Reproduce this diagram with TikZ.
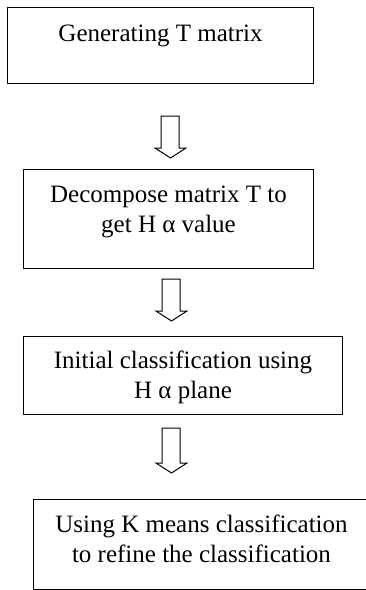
\documentclass[tikz,border=0pt]{standalone}
\usepackage{fontspec}
\setmainfont{Liberation Serif}
\usetikzlibrary{calc}
\tikzset{
  stepbox/.style={draw, line width=1pt, rectangle, inner sep=0pt, anchor=north west},
  lbl/.style={inner sep=0pt, align=center, anchor=base,
    font=\fontsize{25}{29.5}\selectfont},
  hollow/.style={draw, line width=1pt, fill=white, line join=miter},
}
% hollow down arrow: shaft top at #1, shaft length #2
\newcommand{\hollowarrow}[2]{%
  \draw[hollow] ($(#1)+(-9,0)$) -- ($(#1)+(9,0)$) -- ($(#1)+(9,#2)$)
    -- ($(#1)+(16,#2)$) -- ($(#1)+(0.5,#2+10)$) -- ($(#1)+(-15,#2)$)
    -- ($(#1)+(-9,#2)$) -- cycle;}
\begin{document}
\begin{tikzpicture}[x=1pt, y=-1pt]
  \useasboundingbox (0,0) rectangle (365,590);

  % process boxes
  \node[stepbox, minimum width=306pt, minimum height=76pt] (b1) at (7,7) {};
  \node[stepbox, minimum width=290pt, minimum height=99pt] (b2) at (23,169) {};
  \node[stepbox, minimum width=319pt, minimum height=78pt] (b3) at (23,336) {};
  \node[stepbox, minimum width=336pt, minimum height=90pt] (b4) at (33,499) {};

  % box texts (the base anchor sits on the last line)
  \node[lbl] (t1) at ($(b1.north)+(0,34)$) {Generating T matrix};
  \node[lbl] (t2) at ($(b2.north)+(0,63)$) {Decompose matrix T to\\get H α value};
  \node[lbl] (t3) at ($(b3.north)+(0,62)$) {Initial classification using\\H α plane};
  \node[lbl] (t4) at ($(b4.north)+(0,63)$) {Using K means classification\\to refine the classification};

  % connectors between the steps
  \coordinate (a1) at ($(b1.south west)+(163,32)$);
  \coordinate (a2) at ($(b2.south west)+(148,10)$);
  \coordinate (a3) at ($(b3.south west)+(148,13)$);
  \hollowarrow{a1}{32}
  \hollowarrow{a2}{32}
  \hollowarrow{a3}{35}
\end{tikzpicture}
\end{document}
